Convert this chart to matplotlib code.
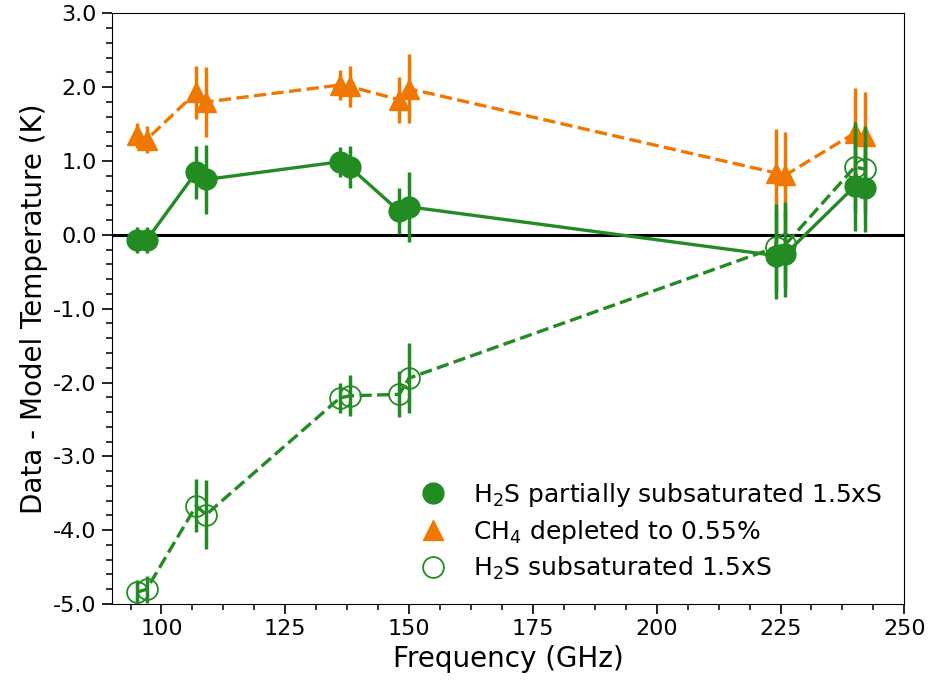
import matplotlib.pyplot as plt
from matplotlib.lines import Line2D
from matplotlib.ticker import AutoMinorLocator, FormatStrFormatter

plt.rcParams['axes.unicode_minus'] = False

# frequencies (GHz)
freq = [95, 97, 107, 109, 136, 138, 148, 150, 224, 226, 240, 242]

# data - model residuals (K)
h2s_partial = [-0.07, -0.07, 0.85, 0.75, 0.99, 0.92, 0.32, 0.38, -0.28, -0.26, 0.66, 0.63]
ch4_depleted = [1.35, 1.29, 1.93, 1.80, 2.03, 2.01, 1.83, 1.98, 0.84, 0.81, 1.38, 1.34]
h2s_sub = [-4.84, -4.80, -3.67, -3.79, -2.21, -2.18, -2.16, -1.94, -0.17, -0.13, 0.92, 0.89]

# measurement uncertainty (K)
err = [0.17, 0.18, 0.36, 0.47, 0.20, 0.28, 0.31, 0.47, 0.59, 0.58, 0.61, 0.59]

labels = ['H$_2$S partially subsaturated 1.5xS',
          'CH$_4$ depleted to 0.55%',
          'H$_2$S subsaturated 1.5xS']

green = '#228b22'
orange = '#f07800'

fig = plt.figure(figsize=(9.3, 6.86), dpi=100)
ax = fig.add_axes([0.1204, 0.1195, 0.852, 0.861])

ax.axhline(0, color='black', lw=2.2, zorder=1)

ax.errorbar(freq, ch4_depleted, yerr=err, fmt='^--', color=orange, ms=14,
            lw=2.4, elinewidth=2.5, capsize=0, zorder=2)
ax.errorbar(freq, h2s_sub, yerr=err, fmt='o--', color=green, ms=15,
            mfc='none', mew=1.3, lw=2.4, elinewidth=2.5, capsize=0, zorder=3)
ax.errorbar(freq, h2s_partial, yerr=err, fmt='o-', color=green, ms=15,
            lw=2.4, elinewidth=2.5, capsize=0, zorder=4)

ax.set_xlim(90, 250)
ax.set_ylim(-5, 3)
ax.set_xticks([100, 125, 150, 175, 200, 225, 250])
ax.yaxis.set_major_formatter(FormatStrFormatter('%.1f'))
ax.xaxis.set_minor_locator(AutoMinorLocator(4))
ax.yaxis.set_minor_locator(AutoMinorLocator(5))
ax.tick_params(which='major', labelsize=16, length=7.5, width=1.2)
ax.tick_params(which='minor', length=4, width=1.1)

ax.set_xlabel('Frequency (GHz)', fontsize=20)
ax.set_ylabel('Data - Model Temperature (K)', fontsize=20)

handles = [Line2D([], [], marker='o', ls='none', color=green, ms=15),
           Line2D([], [], marker='^', ls='none', color=orange, ms=14),
           Line2D([], [], marker='o', ls='none', color=green, ms=15, mfc='none', mew=1.3)]
ax.legend(handles, labels, loc='lower right', frameon=False, fontsize=18,
          handletextpad=0.6, labelspacing=0.35, borderaxespad=0.5)

fig.savefig('out.png', dpi=100)
